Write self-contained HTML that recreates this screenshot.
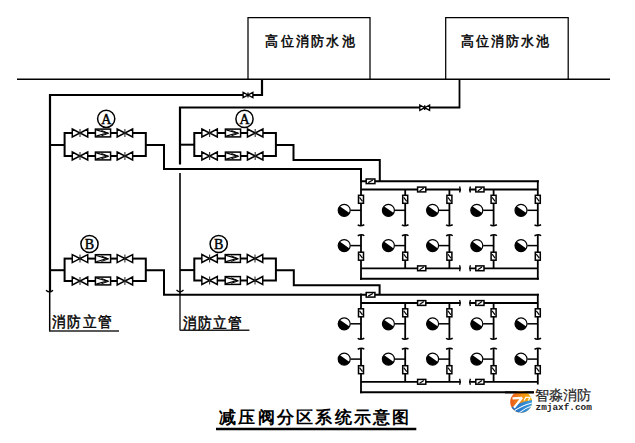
<!DOCTYPE html>
<html><head><meta charset="utf-8">
<style>
html,body{margin:0;padding:0;background:#fff;}
body{width:635px;height:443px;overflow:hidden;position:relative;}
svg{position:absolute;left:0;top:0;}
.t{position:absolute;white-space:nowrap;line-height:1;color:#000;}
</style></head><body>
<svg width="635" height="443" viewBox="0 0 635 443">
<line x1="17" y1="79.3" x2="610" y2="79.3" stroke="#000" stroke-width="1.6"/>
<path d="M248,79.3 V17.6 H370 V79.3" fill="none" stroke="#000" stroke-width="1.25"/>
<path d="M445.7,79.3 V17.6 H568.2 V79.3" fill="none" stroke="#000" stroke-width="1.25"/>
<polyline points="262,79.3 262,95 50,95 50,291.3" fill="none" stroke="#000" stroke-width="2.2" stroke-linejoin="miter"/>
<line x1="49.7" y1="291.3" x2="49.7" y2="331.2" stroke="#000" stroke-width="1.5"/>
<path d="M243.1,92.3 L248,95 L243.1,97.7 Z M252.9,92.3 L248,95 L252.9,97.7 Z" fill="#fff" stroke="#000" stroke-width="1.35"/>
<line x1="248" y1="92.6" x2="248" y2="97.4" stroke="#000" stroke-width="1.3"/>
<path d="M46,290.2 Q49.6,293.6 53,290.2" fill="none" stroke="#000" stroke-width="1.3"/>
<polyline points="459.5,79.3 459.5,107.5 424.7,107.5" fill="none" stroke="#000" stroke-width="1.8" stroke-linejoin="miter"/>
<polyline points="424.7,107.5 180,107.5 180,164.6" fill="none" stroke="#000" stroke-width="2.2" stroke-linejoin="miter"/>
<line x1="180" y1="172.9" x2="180" y2="294" stroke="#000" stroke-width="1.6"/>
<line x1="180" y1="294" x2="180" y2="330.5" stroke="#000" stroke-width="1.25"/>
<path d="M419.8,105.0 L424.7,107.7 L419.8,110.4 Z M429.59999999999997,105.0 L424.7,107.7 L429.59999999999997,110.4 Z" fill="#fff" stroke="#000" stroke-width="1.35"/>
<line x1="424.7" y1="105.3" x2="424.7" y2="110.10000000000001" stroke="#000" stroke-width="1.3"/>
<path d="M176.5,290 Q180,293.6 183.5,290" fill="none" stroke="#000" stroke-width="1.3"/>
<polyline points="145.8,145 164,145 164,169 361,169 361,182" fill="none" stroke="#000" stroke-width="2" stroke-linejoin="miter"/>
<polyline points="275.9,145 293.5,145 293.5,160 379.8,160 379.8,181.3" fill="none" stroke="#000" stroke-width="2" stroke-linejoin="miter"/>
<polyline points="145.8,270.3 164,270.3 164,294.7 362,294.7" fill="none" stroke="#000" stroke-width="2" stroke-linejoin="miter"/>
<polyline points="275.9,270.3 293.8,270.3 293.8,285.2 379.6,285.2 379.6,294.7" fill="none" stroke="#000" stroke-width="2" stroke-linejoin="miter"/>
<line x1="50" y1="145" x2="64.6" y2="145" stroke="#000" stroke-width="2"/>
<rect x="64.6" y="133" width="81.20000000000002" height="23" fill="none" stroke="#000" stroke-width="2"/>
<path d="M72.25,129 L80,133 L72.25,137 Z M87.75,129 L80,133 L87.75,137 Z" fill="#fff" stroke="#000" stroke-width="1.45" stroke-linejoin="miter"/>
<line x1="80" y1="129" x2="80" y2="137" stroke="#333" stroke-width="1.1"/>
<rect x="95.4" y="129.1" width="15.2" height="7.8" fill="#fff" stroke="#000" stroke-width="1.5"/>
<path d="M96.2,129.9 L106.9,133 L96.2,136.1" fill="none" stroke="#000" stroke-width="1.1"/>
<path d="M101.4,130.4 L108.60000000000001,133.3 L101.4,135.8" fill="none" stroke="#000" stroke-width="1"/>
<path d="M117.15,129 L124.9,133 L117.15,137 Z M132.65,129 L124.9,133 L132.65,137 Z" fill="#fff" stroke="#000" stroke-width="1.45" stroke-linejoin="miter"/>
<line x1="124.9" y1="129" x2="124.9" y2="137" stroke="#333" stroke-width="1.1"/>
<path d="M72.25,152 L80,156 L72.25,160 Z M87.75,152 L80,156 L87.75,160 Z" fill="#fff" stroke="#000" stroke-width="1.45" stroke-linejoin="miter"/>
<line x1="80" y1="152" x2="80" y2="160" stroke="#333" stroke-width="1.1"/>
<rect x="95.4" y="152.1" width="15.2" height="7.8" fill="#fff" stroke="#000" stroke-width="1.5"/>
<path d="M96.2,152.9 L106.9,156 L96.2,159.1" fill="none" stroke="#000" stroke-width="1.1"/>
<path d="M101.4,153.4 L108.60000000000001,156.3 L101.4,158.8" fill="none" stroke="#000" stroke-width="1"/>
<path d="M117.15,152 L124.9,156 L117.15,160 Z M132.65,152 L124.9,156 L132.65,160 Z" fill="#fff" stroke="#000" stroke-width="1.45" stroke-linejoin="miter"/>
<line x1="124.9" y1="152" x2="124.9" y2="160" stroke="#333" stroke-width="1.1"/>
<circle cx="106.2" cy="118.8" r="8.6" fill="#fff" stroke="#000" stroke-width="1.5"/>
<text x="106.2" y="123.8" text-anchor="middle" font-family="Liberation Serif, serif" font-size="14" fill="#000" stroke="#000" stroke-width="0.45">A</text>
<line x1="180" y1="144.7" x2="194.3" y2="144.7" stroke="#000" stroke-width="2"/>
<rect x="194.3" y="133" width="81.59999999999997" height="23" fill="none" stroke="#000" stroke-width="2"/>
<path d="M201.85,129 L209.6,133 L201.85,137 Z M217.35,129 L209.6,133 L217.35,137 Z" fill="#fff" stroke="#000" stroke-width="1.45" stroke-linejoin="miter"/>
<line x1="209.6" y1="129" x2="209.6" y2="137" stroke="#333" stroke-width="1.1"/>
<rect x="225.4" y="129.1" width="15.2" height="7.8" fill="#fff" stroke="#000" stroke-width="1.5"/>
<path d="M226.20000000000002,129.9 L236.9,133 L226.20000000000002,136.1" fill="none" stroke="#000" stroke-width="1.1"/>
<path d="M231.4,130.4 L238.6,133.3 L231.4,135.8" fill="none" stroke="#000" stroke-width="1"/>
<path d="M247.45,129 L255.2,133 L247.45,137 Z M262.95,129 L255.2,133 L262.95,137 Z" fill="#fff" stroke="#000" stroke-width="1.45" stroke-linejoin="miter"/>
<line x1="255.2" y1="129" x2="255.2" y2="137" stroke="#333" stroke-width="1.1"/>
<path d="M201.85,152 L209.6,156 L201.85,160 Z M217.35,152 L209.6,156 L217.35,160 Z" fill="#fff" stroke="#000" stroke-width="1.45" stroke-linejoin="miter"/>
<line x1="209.6" y1="152" x2="209.6" y2="160" stroke="#333" stroke-width="1.1"/>
<rect x="225.4" y="152.1" width="15.2" height="7.8" fill="#fff" stroke="#000" stroke-width="1.5"/>
<path d="M226.20000000000002,152.9 L236.9,156 L226.20000000000002,159.1" fill="none" stroke="#000" stroke-width="1.1"/>
<path d="M231.4,153.4 L238.6,156.3 L231.4,158.8" fill="none" stroke="#000" stroke-width="1"/>
<path d="M247.45,152 L255.2,156 L247.45,160 Z M262.95,152 L255.2,156 L262.95,160 Z" fill="#fff" stroke="#000" stroke-width="1.45" stroke-linejoin="miter"/>
<line x1="255.2" y1="152" x2="255.2" y2="160" stroke="#333" stroke-width="1.1"/>
<circle cx="244.5" cy="118.9" r="8.6" fill="#fff" stroke="#000" stroke-width="1.5"/>
<text x="244.5" y="123.9" text-anchor="middle" font-family="Liberation Serif, serif" font-size="14" fill="#000" stroke="#000" stroke-width="0.45">A</text>
<line x1="50" y1="270.2" x2="64.6" y2="270.2" stroke="#000" stroke-width="2"/>
<rect x="64.6" y="258.6" width="81.20000000000002" height="22.399999999999977" fill="none" stroke="#000" stroke-width="2"/>
<path d="M72.25,254.60000000000002 L80,258.6 L72.25,262.6 Z M87.75,254.60000000000002 L80,258.6 L87.75,262.6 Z" fill="#fff" stroke="#000" stroke-width="1.45" stroke-linejoin="miter"/>
<line x1="80" y1="254.60000000000002" x2="80" y2="262.6" stroke="#333" stroke-width="1.1"/>
<rect x="95.4" y="254.70000000000002" width="15.2" height="7.8" fill="#fff" stroke="#000" stroke-width="1.5"/>
<path d="M96.2,255.50000000000003 L106.9,258.6 L96.2,261.7" fill="none" stroke="#000" stroke-width="1.1"/>
<path d="M101.4,256.0 L108.60000000000001,258.90000000000003 L101.4,261.4" fill="none" stroke="#000" stroke-width="1"/>
<path d="M117.15,254.60000000000002 L124.9,258.6 L117.15,262.6 Z M132.65,254.60000000000002 L124.9,258.6 L132.65,262.6 Z" fill="#fff" stroke="#000" stroke-width="1.45" stroke-linejoin="miter"/>
<line x1="124.9" y1="254.60000000000002" x2="124.9" y2="262.6" stroke="#333" stroke-width="1.1"/>
<path d="M72.25,277 L80,281 L72.25,285 Z M87.75,277 L80,281 L87.75,285 Z" fill="#fff" stroke="#000" stroke-width="1.45" stroke-linejoin="miter"/>
<line x1="80" y1="277" x2="80" y2="285" stroke="#333" stroke-width="1.1"/>
<rect x="95.4" y="277.1" width="15.2" height="7.8" fill="#fff" stroke="#000" stroke-width="1.5"/>
<path d="M96.2,277.90000000000003 L106.9,281 L96.2,284.1" fill="none" stroke="#000" stroke-width="1.1"/>
<path d="M101.4,278.40000000000003 L108.60000000000001,281.3 L101.4,283.8" fill="none" stroke="#000" stroke-width="1"/>
<path d="M117.15,277 L124.9,281 L117.15,285 Z M132.65,277 L124.9,281 L132.65,285 Z" fill="#fff" stroke="#000" stroke-width="1.45" stroke-linejoin="miter"/>
<line x1="124.9" y1="277" x2="124.9" y2="285" stroke="#333" stroke-width="1.1"/>
<circle cx="89.5" cy="244" r="8.6" fill="#fff" stroke="#000" stroke-width="1.5"/>
<text x="89.5" y="249" text-anchor="middle" font-family="Liberation Serif, serif" font-size="14" fill="#000" stroke="#000" stroke-width="0.45">B</text>
<line x1="180" y1="270.1" x2="194.3" y2="270.1" stroke="#000" stroke-width="2"/>
<rect x="194.3" y="258.5" width="81.59999999999997" height="22.0" fill="none" stroke="#000" stroke-width="2"/>
<path d="M201.85,254.5 L209.6,258.5 L201.85,262.5 Z M217.35,254.5 L209.6,258.5 L217.35,262.5 Z" fill="#fff" stroke="#000" stroke-width="1.45" stroke-linejoin="miter"/>
<line x1="209.6" y1="254.5" x2="209.6" y2="262.5" stroke="#333" stroke-width="1.1"/>
<rect x="225.2" y="254.6" width="15.2" height="7.8" fill="#fff" stroke="#000" stroke-width="1.5"/>
<path d="M226.0,255.4 L236.7,258.5 L226.0,261.59999999999997" fill="none" stroke="#000" stroke-width="1.1"/>
<path d="M231.2,255.9 L238.39999999999998,258.8 L231.2,261.29999999999995" fill="none" stroke="#000" stroke-width="1"/>
<path d="M247.25,254.5 L255,258.5 L247.25,262.5 Z M262.75,254.5 L255,258.5 L262.75,262.5 Z" fill="#fff" stroke="#000" stroke-width="1.45" stroke-linejoin="miter"/>
<line x1="255" y1="254.5" x2="255" y2="262.5" stroke="#333" stroke-width="1.1"/>
<path d="M201.85,276.5 L209.6,280.5 L201.85,284.5 Z M217.35,276.5 L209.6,280.5 L217.35,284.5 Z" fill="#fff" stroke="#000" stroke-width="1.45" stroke-linejoin="miter"/>
<line x1="209.6" y1="276.5" x2="209.6" y2="284.5" stroke="#333" stroke-width="1.1"/>
<rect x="225.2" y="276.6" width="15.2" height="7.8" fill="#fff" stroke="#000" stroke-width="1.5"/>
<path d="M226.0,277.40000000000003 L236.7,280.5 L226.0,283.6" fill="none" stroke="#000" stroke-width="1.1"/>
<path d="M231.2,277.90000000000003 L238.39999999999998,280.8 L231.2,283.3" fill="none" stroke="#000" stroke-width="1"/>
<path d="M247.25,276.5 L255,280.5 L247.25,284.5 Z M262.75,276.5 L255,280.5 L262.75,284.5 Z" fill="#fff" stroke="#000" stroke-width="1.45" stroke-linejoin="miter"/>
<line x1="255" y1="276.5" x2="255" y2="284.5" stroke="#333" stroke-width="1.1"/>
<circle cx="218.7" cy="244" r="8.6" fill="#fff" stroke="#000" stroke-width="1.5"/>
<text x="218.7" y="249" text-anchor="middle" font-family="Liberation Serif, serif" font-size="14" fill="#000" stroke="#000" stroke-width="0.45">B</text>
<line x1="360" y1="181.3" x2="538.8" y2="181.3" stroke="#000" stroke-width="2"/>
<line x1="361" y1="189.5" x2="460.2" y2="189.5" stroke="#000" stroke-width="1.8"/>
<line x1="469.8" y1="189.5" x2="537.8" y2="189.5" stroke="#000" stroke-width="1.8"/>
<path d="M459.6,186.5 Q461,189.5 459.6,192.5" fill="none" stroke="#000" stroke-width="1.4"/>
<path d="M470.4,186.5 Q469,189.5 470.4,192.5" fill="none" stroke="#000" stroke-width="1.4"/>
<rect x="417.6" y="187.1" width="8.2" height="4.8" fill="#fff" stroke="#000" stroke-width="1.5"/>
<line x1="419.6" y1="190.9" x2="423.8" y2="188.1" stroke="#000" stroke-width="1.2"/>
<rect x="475.8" y="187.1" width="8.2" height="4.8" fill="#fff" stroke="#000" stroke-width="1.5"/>
<line x1="477.8" y1="190.9" x2="482.0" y2="188.1" stroke="#000" stroke-width="1.2"/>
<line x1="361" y1="268.3" x2="460.2" y2="268.3" stroke="#000" stroke-width="1.8"/>
<line x1="469.8" y1="268.3" x2="537.8" y2="268.3" stroke="#000" stroke-width="1.8"/>
<path d="M459.6,265.3 Q461,268.3 459.6,271.3" fill="none" stroke="#000" stroke-width="1.4"/>
<path d="M470.4,265.3 Q469,268.3 470.4,271.3" fill="none" stroke="#000" stroke-width="1.4"/>
<rect x="417.6" y="265.90000000000003" width="8.2" height="4.8" fill="#fff" stroke="#000" stroke-width="1.5"/>
<line x1="419.6" y1="269.70000000000005" x2="423.8" y2="266.90000000000003" stroke="#000" stroke-width="1.2"/>
<rect x="475.8" y="265.90000000000003" width="8.2" height="4.8" fill="#fff" stroke="#000" stroke-width="1.5"/>
<line x1="477.8" y1="269.70000000000005" x2="482.0" y2="266.90000000000003" stroke="#000" stroke-width="1.2"/>
<line x1="360" y1="278.7" x2="538.8" y2="278.7" stroke="#000" stroke-width="2"/>
<rect x="366.2" y="179.0" width="8.7" height="4.6" fill="#fff" stroke="#000" stroke-width="1.5"/>
<line x1="368.2" y1="182.6" x2="372.9" y2="180.0" stroke="#000" stroke-width="1.2"/>
<line x1="361" y1="180.3" x2="361" y2="225.5" stroke="#000" stroke-width="1.8"/>
<line x1="361" y1="235" x2="361" y2="279.7" stroke="#000" stroke-width="1.8"/>
<path d="M357.7,224.7 Q360,226.7 364.3,224.7" fill="none" stroke="#000" stroke-width="1.5"/>
<path d="M357.7,235.8 Q362,233.8 364.3,235.8" fill="none" stroke="#000" stroke-width="1.5"/>
<rect x="358.5" y="195.3" width="5.0" height="8.0" fill="#fff" stroke="#000" stroke-width="1.5"/>
<line x1="359.5" y1="197.3" x2="362.5" y2="201.3" stroke="#000" stroke-width="1.2"/>
<rect x="358.5" y="252.2" width="5.0" height="8.0" fill="#fff" stroke="#000" stroke-width="1.5"/>
<line x1="359.5" y1="254.2" x2="362.5" y2="258.2" stroke="#000" stroke-width="1.2"/>
<circle cx="344.2" cy="210.3" r="6.0" fill="#fff" stroke="#000" stroke-width="1.2"/>
<path d="M339.74,206.29 A6.0,6.0 0 1 0 349.50,213.12 Z" fill="#000"/>
<circle cx="344.2" cy="245.6" r="6.0" fill="#fff" stroke="#000" stroke-width="1.2"/>
<path d="M339.74,241.59 A6.0,6.0 0 1 0 349.50,248.42 Z" fill="#000"/>
<line x1="350.5" y1="210.3" x2="361" y2="210.3" stroke="#000" stroke-width="1.5"/>
<line x1="350.5" y1="245.6" x2="361" y2="245.6" stroke="#000" stroke-width="1.5"/>
<line x1="405.2" y1="189.5" x2="405.2" y2="225.5" stroke="#000" stroke-width="1.8"/>
<line x1="405.2" y1="235" x2="405.2" y2="268.3" stroke="#000" stroke-width="1.8"/>
<path d="M401.9,224.7 Q404.2,226.7 408.5,224.7" fill="none" stroke="#000" stroke-width="1.5"/>
<path d="M401.9,235.8 Q406.2,233.8 408.5,235.8" fill="none" stroke="#000" stroke-width="1.5"/>
<rect x="402.7" y="195.3" width="5.0" height="8.0" fill="#fff" stroke="#000" stroke-width="1.5"/>
<line x1="403.7" y1="197.3" x2="406.7" y2="201.3" stroke="#000" stroke-width="1.2"/>
<rect x="402.7" y="252.2" width="5.0" height="8.0" fill="#fff" stroke="#000" stroke-width="1.5"/>
<line x1="403.7" y1="254.2" x2="406.7" y2="258.2" stroke="#000" stroke-width="1.2"/>
<circle cx="388.4" cy="210.3" r="6.0" fill="#fff" stroke="#000" stroke-width="1.2"/>
<path d="M383.94,206.29 A6.0,6.0 0 1 0 393.70,213.12 Z" fill="#000"/>
<circle cx="388.4" cy="245.6" r="6.0" fill="#fff" stroke="#000" stroke-width="1.2"/>
<path d="M383.94,241.59 A6.0,6.0 0 1 0 393.70,248.42 Z" fill="#000"/>
<line x1="394.7" y1="210.3" x2="405.2" y2="210.3" stroke="#000" stroke-width="1.5"/>
<line x1="394.7" y1="245.6" x2="405.2" y2="245.6" stroke="#000" stroke-width="1.5"/>
<line x1="449.4" y1="189.5" x2="449.4" y2="225.5" stroke="#000" stroke-width="1.8"/>
<line x1="449.4" y1="235" x2="449.4" y2="268.3" stroke="#000" stroke-width="1.8"/>
<path d="M446.09999999999997,224.7 Q448.4,226.7 452.7,224.7" fill="none" stroke="#000" stroke-width="1.5"/>
<path d="M446.09999999999997,235.8 Q450.4,233.8 452.7,235.8" fill="none" stroke="#000" stroke-width="1.5"/>
<rect x="446.9" y="195.3" width="5.0" height="8.0" fill="#fff" stroke="#000" stroke-width="1.5"/>
<line x1="447.9" y1="197.3" x2="450.9" y2="201.3" stroke="#000" stroke-width="1.2"/>
<rect x="446.9" y="252.2" width="5.0" height="8.0" fill="#fff" stroke="#000" stroke-width="1.5"/>
<line x1="447.9" y1="254.2" x2="450.9" y2="258.2" stroke="#000" stroke-width="1.2"/>
<circle cx="432.59999999999997" cy="210.3" r="6.0" fill="#fff" stroke="#000" stroke-width="1.2"/>
<path d="M428.14,206.29 A6.0,6.0 0 1 0 437.90,213.12 Z" fill="#000"/>
<circle cx="432.59999999999997" cy="245.6" r="6.0" fill="#fff" stroke="#000" stroke-width="1.2"/>
<path d="M428.14,241.59 A6.0,6.0 0 1 0 437.90,248.42 Z" fill="#000"/>
<line x1="438.9" y1="210.3" x2="449.4" y2="210.3" stroke="#000" stroke-width="1.5"/>
<line x1="438.9" y1="245.6" x2="449.4" y2="245.6" stroke="#000" stroke-width="1.5"/>
<line x1="493.6" y1="189.5" x2="493.6" y2="225.5" stroke="#000" stroke-width="1.8"/>
<line x1="493.6" y1="235" x2="493.6" y2="268.3" stroke="#000" stroke-width="1.8"/>
<path d="M490.3,224.7 Q492.6,226.7 496.90000000000003,224.7" fill="none" stroke="#000" stroke-width="1.5"/>
<path d="M490.3,235.8 Q494.6,233.8 496.90000000000003,235.8" fill="none" stroke="#000" stroke-width="1.5"/>
<rect x="491.1" y="195.3" width="5.0" height="8.0" fill="#fff" stroke="#000" stroke-width="1.5"/>
<line x1="492.1" y1="197.3" x2="495.1" y2="201.3" stroke="#000" stroke-width="1.2"/>
<rect x="491.1" y="252.2" width="5.0" height="8.0" fill="#fff" stroke="#000" stroke-width="1.5"/>
<line x1="492.1" y1="254.2" x2="495.1" y2="258.2" stroke="#000" stroke-width="1.2"/>
<circle cx="476.8" cy="210.3" r="6.0" fill="#fff" stroke="#000" stroke-width="1.2"/>
<path d="M472.34,206.29 A6.0,6.0 0 1 0 482.10,213.12 Z" fill="#000"/>
<circle cx="476.8" cy="245.6" r="6.0" fill="#fff" stroke="#000" stroke-width="1.2"/>
<path d="M472.34,241.59 A6.0,6.0 0 1 0 482.10,248.42 Z" fill="#000"/>
<line x1="483.1" y1="210.3" x2="493.6" y2="210.3" stroke="#000" stroke-width="1.5"/>
<line x1="483.1" y1="245.6" x2="493.6" y2="245.6" stroke="#000" stroke-width="1.5"/>
<line x1="537.8" y1="180.3" x2="537.8" y2="225.5" stroke="#000" stroke-width="1.8"/>
<line x1="537.8" y1="235" x2="537.8" y2="279.7" stroke="#000" stroke-width="1.8"/>
<path d="M534.5,224.7 Q536.8,226.7 541.0999999999999,224.7" fill="none" stroke="#000" stroke-width="1.5"/>
<path d="M534.5,235.8 Q538.8,233.8 541.0999999999999,235.8" fill="none" stroke="#000" stroke-width="1.5"/>
<rect x="535.3" y="195.3" width="5.0" height="8.0" fill="#fff" stroke="#000" stroke-width="1.5"/>
<line x1="536.3" y1="197.3" x2="539.3" y2="201.3" stroke="#000" stroke-width="1.2"/>
<rect x="535.3" y="252.2" width="5.0" height="8.0" fill="#fff" stroke="#000" stroke-width="1.5"/>
<line x1="536.3" y1="254.2" x2="539.3" y2="258.2" stroke="#000" stroke-width="1.2"/>
<circle cx="521.0" cy="210.3" r="6.0" fill="#fff" stroke="#000" stroke-width="1.2"/>
<path d="M516.54,206.29 A6.0,6.0 0 1 0 526.30,213.12 Z" fill="#000"/>
<circle cx="521.0" cy="245.6" r="6.0" fill="#fff" stroke="#000" stroke-width="1.2"/>
<path d="M516.54,241.59 A6.0,6.0 0 1 0 526.30,248.42 Z" fill="#000"/>
<line x1="527.3" y1="210.3" x2="537.8" y2="210.3" stroke="#000" stroke-width="1.5"/>
<line x1="527.3" y1="245.6" x2="537.8" y2="245.6" stroke="#000" stroke-width="1.5"/>
<line x1="360" y1="294.8" x2="538.8" y2="294.8" stroke="#000" stroke-width="2"/>
<line x1="361" y1="303.0" x2="460.2" y2="303.0" stroke="#000" stroke-width="1.8"/>
<line x1="469.8" y1="303.0" x2="537.8" y2="303.0" stroke="#000" stroke-width="1.8"/>
<path d="M459.6,300.0 Q461,303.0 459.6,306.0" fill="none" stroke="#000" stroke-width="1.4"/>
<path d="M470.4,300.0 Q469,303.0 470.4,306.0" fill="none" stroke="#000" stroke-width="1.4"/>
<rect x="417.6" y="300.6" width="8.2" height="4.8" fill="#fff" stroke="#000" stroke-width="1.5"/>
<line x1="419.6" y1="304.40000000000003" x2="423.8" y2="301.6" stroke="#000" stroke-width="1.2"/>
<rect x="475.8" y="300.6" width="8.2" height="4.8" fill="#fff" stroke="#000" stroke-width="1.5"/>
<line x1="477.8" y1="304.40000000000003" x2="482.0" y2="301.6" stroke="#000" stroke-width="1.2"/>
<line x1="361" y1="381.8" x2="460.2" y2="381.8" stroke="#000" stroke-width="1.8"/>
<line x1="469.8" y1="381.8" x2="537.8" y2="381.8" stroke="#000" stroke-width="1.8"/>
<path d="M459.6,378.8 Q461,381.8 459.6,384.8" fill="none" stroke="#000" stroke-width="1.4"/>
<path d="M470.4,378.8 Q469,381.8 470.4,384.8" fill="none" stroke="#000" stroke-width="1.4"/>
<rect x="417.6" y="379.40000000000003" width="8.2" height="4.8" fill="#fff" stroke="#000" stroke-width="1.5"/>
<line x1="419.6" y1="383.20000000000005" x2="423.8" y2="380.40000000000003" stroke="#000" stroke-width="1.2"/>
<rect x="475.8" y="379.40000000000003" width="8.2" height="4.8" fill="#fff" stroke="#000" stroke-width="1.5"/>
<line x1="477.8" y1="383.20000000000005" x2="482.0" y2="380.40000000000003" stroke="#000" stroke-width="1.2"/>
<line x1="360" y1="392.2" x2="538.8" y2="392.2" stroke="#000" stroke-width="2"/>
<rect x="366.2" y="292.5" width="8.7" height="4.6" fill="#fff" stroke="#000" stroke-width="1.5"/>
<line x1="368.2" y1="296.1" x2="372.9" y2="293.5" stroke="#000" stroke-width="1.2"/>
<line x1="361" y1="293.8" x2="361" y2="339.0" stroke="#000" stroke-width="1.8"/>
<line x1="361" y1="348.5" x2="361" y2="393.2" stroke="#000" stroke-width="1.8"/>
<path d="M357.7,338.2 Q360,340.2 364.3,338.2" fill="none" stroke="#000" stroke-width="1.5"/>
<path d="M357.7,349.3 Q362,347.3 364.3,349.3" fill="none" stroke="#000" stroke-width="1.5"/>
<rect x="358.5" y="308.8" width="5.0" height="8.0" fill="#fff" stroke="#000" stroke-width="1.5"/>
<line x1="359.5" y1="310.8" x2="362.5" y2="314.8" stroke="#000" stroke-width="1.2"/>
<rect x="358.5" y="365.7" width="5.0" height="8.0" fill="#fff" stroke="#000" stroke-width="1.5"/>
<line x1="359.5" y1="367.7" x2="362.5" y2="371.7" stroke="#000" stroke-width="1.2"/>
<circle cx="344.2" cy="323.8" r="6.0" fill="#fff" stroke="#000" stroke-width="1.2"/>
<path d="M339.74,319.79 A6.0,6.0 0 1 0 349.50,326.62 Z" fill="#000"/>
<circle cx="344.2" cy="359.1" r="6.0" fill="#fff" stroke="#000" stroke-width="1.2"/>
<path d="M339.74,355.09 A6.0,6.0 0 1 0 349.50,361.92 Z" fill="#000"/>
<line x1="350.5" y1="323.8" x2="361" y2="323.8" stroke="#000" stroke-width="1.5"/>
<line x1="350.5" y1="359.1" x2="361" y2="359.1" stroke="#000" stroke-width="1.5"/>
<line x1="405.2" y1="303.0" x2="405.2" y2="339.0" stroke="#000" stroke-width="1.8"/>
<line x1="405.2" y1="348.5" x2="405.2" y2="381.8" stroke="#000" stroke-width="1.8"/>
<path d="M401.9,338.2 Q404.2,340.2 408.5,338.2" fill="none" stroke="#000" stroke-width="1.5"/>
<path d="M401.9,349.3 Q406.2,347.3 408.5,349.3" fill="none" stroke="#000" stroke-width="1.5"/>
<rect x="402.7" y="308.8" width="5.0" height="8.0" fill="#fff" stroke="#000" stroke-width="1.5"/>
<line x1="403.7" y1="310.8" x2="406.7" y2="314.8" stroke="#000" stroke-width="1.2"/>
<rect x="402.7" y="365.7" width="5.0" height="8.0" fill="#fff" stroke="#000" stroke-width="1.5"/>
<line x1="403.7" y1="367.7" x2="406.7" y2="371.7" stroke="#000" stroke-width="1.2"/>
<circle cx="388.4" cy="323.8" r="6.0" fill="#fff" stroke="#000" stroke-width="1.2"/>
<path d="M383.94,319.79 A6.0,6.0 0 1 0 393.70,326.62 Z" fill="#000"/>
<circle cx="388.4" cy="359.1" r="6.0" fill="#fff" stroke="#000" stroke-width="1.2"/>
<path d="M383.94,355.09 A6.0,6.0 0 1 0 393.70,361.92 Z" fill="#000"/>
<line x1="394.7" y1="323.8" x2="405.2" y2="323.8" stroke="#000" stroke-width="1.5"/>
<line x1="394.7" y1="359.1" x2="405.2" y2="359.1" stroke="#000" stroke-width="1.5"/>
<line x1="449.4" y1="303.0" x2="449.4" y2="339.0" stroke="#000" stroke-width="1.8"/>
<line x1="449.4" y1="348.5" x2="449.4" y2="381.8" stroke="#000" stroke-width="1.8"/>
<path d="M446.09999999999997,338.2 Q448.4,340.2 452.7,338.2" fill="none" stroke="#000" stroke-width="1.5"/>
<path d="M446.09999999999997,349.3 Q450.4,347.3 452.7,349.3" fill="none" stroke="#000" stroke-width="1.5"/>
<rect x="446.9" y="308.8" width="5.0" height="8.0" fill="#fff" stroke="#000" stroke-width="1.5"/>
<line x1="447.9" y1="310.8" x2="450.9" y2="314.8" stroke="#000" stroke-width="1.2"/>
<rect x="446.9" y="365.7" width="5.0" height="8.0" fill="#fff" stroke="#000" stroke-width="1.5"/>
<line x1="447.9" y1="367.7" x2="450.9" y2="371.7" stroke="#000" stroke-width="1.2"/>
<circle cx="432.59999999999997" cy="323.8" r="6.0" fill="#fff" stroke="#000" stroke-width="1.2"/>
<path d="M428.14,319.79 A6.0,6.0 0 1 0 437.90,326.62 Z" fill="#000"/>
<circle cx="432.59999999999997" cy="359.1" r="6.0" fill="#fff" stroke="#000" stroke-width="1.2"/>
<path d="M428.14,355.09 A6.0,6.0 0 1 0 437.90,361.92 Z" fill="#000"/>
<line x1="438.9" y1="323.8" x2="449.4" y2="323.8" stroke="#000" stroke-width="1.5"/>
<line x1="438.9" y1="359.1" x2="449.4" y2="359.1" stroke="#000" stroke-width="1.5"/>
<line x1="493.6" y1="303.0" x2="493.6" y2="339.0" stroke="#000" stroke-width="1.8"/>
<line x1="493.6" y1="348.5" x2="493.6" y2="381.8" stroke="#000" stroke-width="1.8"/>
<path d="M490.3,338.2 Q492.6,340.2 496.90000000000003,338.2" fill="none" stroke="#000" stroke-width="1.5"/>
<path d="M490.3,349.3 Q494.6,347.3 496.90000000000003,349.3" fill="none" stroke="#000" stroke-width="1.5"/>
<rect x="491.1" y="308.8" width="5.0" height="8.0" fill="#fff" stroke="#000" stroke-width="1.5"/>
<line x1="492.1" y1="310.8" x2="495.1" y2="314.8" stroke="#000" stroke-width="1.2"/>
<rect x="491.1" y="365.7" width="5.0" height="8.0" fill="#fff" stroke="#000" stroke-width="1.5"/>
<line x1="492.1" y1="367.7" x2="495.1" y2="371.7" stroke="#000" stroke-width="1.2"/>
<circle cx="476.8" cy="323.8" r="6.0" fill="#fff" stroke="#000" stroke-width="1.2"/>
<path d="M472.34,319.79 A6.0,6.0 0 1 0 482.10,326.62 Z" fill="#000"/>
<circle cx="476.8" cy="359.1" r="6.0" fill="#fff" stroke="#000" stroke-width="1.2"/>
<path d="M472.34,355.09 A6.0,6.0 0 1 0 482.10,361.92 Z" fill="#000"/>
<line x1="483.1" y1="323.8" x2="493.6" y2="323.8" stroke="#000" stroke-width="1.5"/>
<line x1="483.1" y1="359.1" x2="493.6" y2="359.1" stroke="#000" stroke-width="1.5"/>
<line x1="537.8" y1="293.8" x2="537.8" y2="339.0" stroke="#000" stroke-width="1.8"/>
<line x1="537.8" y1="348.5" x2="537.8" y2="393.2" stroke="#000" stroke-width="1.8"/>
<path d="M534.5,338.2 Q536.8,340.2 541.0999999999999,338.2" fill="none" stroke="#000" stroke-width="1.5"/>
<path d="M534.5,349.3 Q538.8,347.3 541.0999999999999,349.3" fill="none" stroke="#000" stroke-width="1.5"/>
<rect x="535.3" y="308.8" width="5.0" height="8.0" fill="#fff" stroke="#000" stroke-width="1.5"/>
<line x1="536.3" y1="310.8" x2="539.3" y2="314.8" stroke="#000" stroke-width="1.2"/>
<rect x="535.3" y="365.7" width="5.0" height="8.0" fill="#fff" stroke="#000" stroke-width="1.5"/>
<line x1="536.3" y1="367.7" x2="539.3" y2="371.7" stroke="#000" stroke-width="1.2"/>
<circle cx="521.0" cy="323.8" r="6.0" fill="#fff" stroke="#000" stroke-width="1.2"/>
<path d="M516.54,319.79 A6.0,6.0 0 1 0 526.30,326.62 Z" fill="#000"/>
<circle cx="521.0" cy="359.1" r="6.0" fill="#fff" stroke="#000" stroke-width="1.2"/>
<path d="M516.54,355.09 A6.0,6.0 0 1 0 526.30,361.92 Z" fill="#000"/>
<line x1="527.3" y1="323.8" x2="537.8" y2="323.8" stroke="#000" stroke-width="1.5"/>
<line x1="527.3" y1="359.1" x2="537.8" y2="359.1" stroke="#000" stroke-width="1.5"/>
<line x1="49" y1="331" x2="119" y2="331" stroke="#222" stroke-width="1.6"/>
<line x1="180" y1="330.3" x2="249.4" y2="330.3" stroke="#222" stroke-width="1.4"/>
<line x1="216" y1="428.9" x2="416.3" y2="428.9" stroke="#000" stroke-width="2.5"/>
<defs>
<linearGradient id="go" x1="0" y1="0" x2="1" y2="0"><stop offset="0" stop-color="#e9531d"/><stop offset="0.6" stop-color="#f39a12"/><stop offset="1" stop-color="#f7b500"/></linearGradient>
<linearGradient id="gb" x1="0" y1="0" x2="1" y2="0"><stop offset="0" stop-color="#1b5fb8"/><stop offset="1" stop-color="#3fa3e3"/></linearGradient>
<clipPath id="lc"><circle cx="521.1" cy="401.9" r="10.9"/></clipPath>
</defs>
<rect x="534" y="384.5" width="70" height="30" fill="#fff"/>
<g clip-path="url(#lc)">
<rect x="509" y="390" width="25" height="25" fill="url(#go)"/>
<path d="M508,409.5 Q520,401.5 534,399.8 L534,416 L508,416 Z" fill="url(#gb)"/>
<path d="M512,412.5 Q522,405 534,402.6" fill="none" stroke="#fff" stroke-width="1.1"/>
<path d="M516.5,415 Q525,407.5 534,405.2" fill="none" stroke="#fff" stroke-width="1.1"/>
<path d="M522,416 Q528,410 534,408" fill="none" stroke="#fff" stroke-width="1.1"/>
<path d="M512.5,398.4 L522,397.8 L514,407.8" fill="none" stroke="#fff" stroke-width="2.2" stroke-linejoin="bevel"/>
<path d="M524,400.5 L525.8,397.4 L530,397.4 L528.3,400.5" fill="none" stroke="#fff" stroke-width="1.3"/>
</g>
<line x1="505" y1="392.4" x2="533.7" y2="392.4" stroke="#000" stroke-width="2"/>
</svg>
<div class="t" style="left:265.3px;top:33.5px;font-family:'Liberation Serif',serif;font-size:13px;letter-spacing:2.25px;font-weight:500;-webkit-text-stroke:0.45px #000;transform:scaleY(1.08);transform-origin:0 0;">高位消防水池</div>
<div class="t" style="left:460.5px;top:34.3px;font-family:'Liberation Serif',serif;font-size:13px;letter-spacing:2.2px;font-weight:500;-webkit-text-stroke:0.45px #000;transform:scaleY(1.08);transform-origin:0 0;">高位消防水池</div>
<div class="t" style="left:52px;top:315px;font-family:'Liberation Serif',serif;font-size:13.5px;letter-spacing:1.3px;font-weight:500;-webkit-text-stroke:0.4px #000;transform:scaleY(1.1);transform-origin:0 0;">消防立管</div>
<div class="t" style="left:182.5px;top:316px;font-family:'Liberation Serif',serif;font-size:13.5px;letter-spacing:1.3px;font-weight:500;-webkit-text-stroke:0.4px #000;transform:scaleY(1.1);transform-origin:0 0;">消防立管</div>
<div class="t" style="left:534.5px;top:388.5px;font-family:'Liberation Sans',sans-serif;font-size:13.8px;color:#222;font-weight:500;-webkit-text-stroke:0.2px #222;">智淼消防</div>
<div class="t" style="left:535.5px;top:403px;font-family:'Liberation Mono',monospace;font-size:9.4px;font-weight:bold;color:#222;">zmjaxf.com</div>
<div class="t" style="left:219px;top:409px;font-family:'Liberation Sans',sans-serif;font-size:17px;font-weight:bold;letter-spacing:2.25px;">减压阀分区系统示意图</div>
</body></html>
